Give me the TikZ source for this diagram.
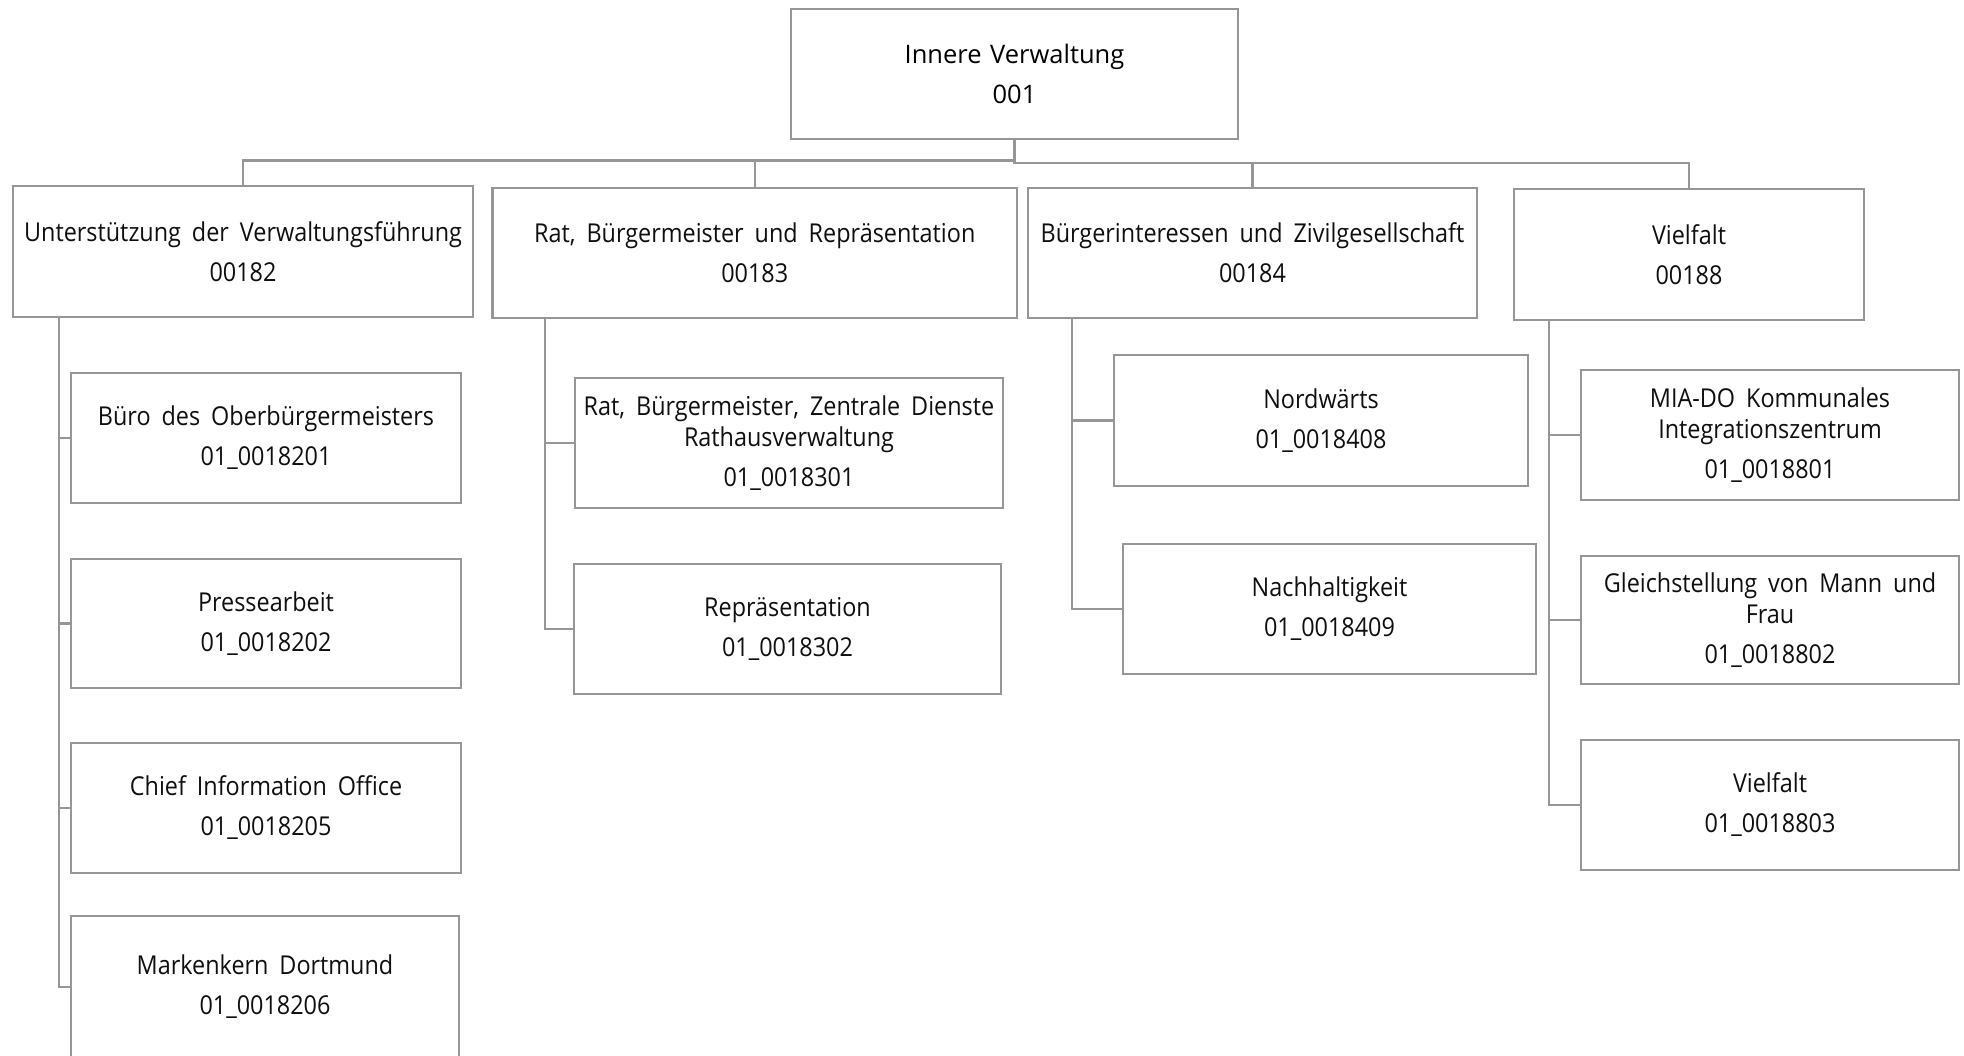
\documentclass[tikz,border=0pt]{standalone}
\usepackage{fontspec}
\newfontfamily\orgfont{Open Sans}[FakeStretch=0.9,WordSpace=1.8]
\newfontfamily\topfont{Open Sans}[WordSpace=1.3]
\usetikzlibrary{calc}
\definecolor{linegray}{RGB}{150,150,150}
\definecolor{textblack}{RGB}{15,15,15}
\tikzset{
  orgbox/.style={draw=linegray, line width=2.5pt, rectangle, inner sep=0pt,
    align=center, text=textblack, font={\orgfont\fontsize{26}{31}\selectfont}},
  topbox/.style={orgbox, text=black, font={\topfont\fontsize{25.5}{31}\selectfont}},
  conn/.style={draw=linegray, line width=2.5pt},
}
\newcommand{\bx}[7][orgbox]{% style, name, left, top, right, bottom, text
  \node[#1, minimum width={(#5)-(#3)}, minimum height={(#6)-(#4)}]
    (#2) at ({((#3)+(#5))/2},{((#4)+(#6))/2}) {#7};}
\begin{document}
\begin{tikzpicture}[x=1pt,y=-1pt]
\useasboundingbox (0,0) rectangle (1964,1055);
\clip (0,0) rectangle (1964,1055);
\bx[topbox]{T}{791}{9}{1238}{139}{Innere Verwaltung\\[9pt]001}
\bx{c182}{13}{186}{473}{317}{Unterstützung der Verwaltungsführung\\[9pt]00182}
\bx{c183}{492.5}{188}{1017}{318}{Rat, Bürgermeister und Repräsentation\\[9pt]00183}
\bx{c184}{1028}{188}{1477}{318}{Bürgerinteressen und Zivilgesellschaft\\[9pt]00184}
\bx{c188}{1514}{189}{1864}{320}{Vielfalt\\[9pt]00188}
%
\bx{b201}{71}{373}{461}{503}{Büro des Oberbürgermeisters\\[9pt]01\_0018201}
\bx{b202}{71}{559}{461}{688}{Pressearbeit\\[9pt]01\_0018202}
\bx{b205}{71}{743}{461}{873}{Chief Information Office\\[9pt]01\_0018205}
\bx{b206}{71}{916}{459}{1058}{Markenkern Dortmund\\[9pt]01\_0018206}
%
\bx{b301}{575}{378}{1003}{508}{Rat, Bürgermeister, Zentrale Dienste\\Rathausverwaltung\\[9pt]01\_0018301}
\bx{b302}{574}{564}{1001}{694}{Repräsentation\\[9pt]01\_0018302}
%
\bx{b408}{1114}{355}{1528}{486}{Nordwärts\\[9pt]01\_0018408}
\bx{b409}{1123}{544}{1536}{674}{Nachhaltigkeit\\[9pt]01\_0018409}
%
\bx{b801}{1581}{370}{1959}{500}{MIA-DO Kommunales\\Integrationszentrum\\[9pt]01\_0018801}
\bx{b802}{1581}{556}{1959}{684}{Gleichstellung von Mann und\\Frau\\[9pt]01\_0018802}
\bx{b803}{1581}{740}{1959}{870}{Vielfalt\\[9pt]01\_0018803}
% top level connectors
\draw[conn] (T.south) -- ++(0,20) -| (c182.north);
\draw[conn] (T.south) -- ++(0,20) -| (c183.north);
\draw[conn] (T.south) -- ++(0,22.5) -| (c184.north);
\draw[conn] (T.south) -- ++(0,22.5) -| (c188.north);
% column 1
\foreach \c in {b201,b202,b205,b206}
  \draw[conn] ($(c182.south west)+(47,0)$) |- (\c.west);
% column 2
\foreach \c in {b301,b302}
  \draw[conn] ($(c183.south west)+(53.5,0)$) |- (\c.west);
% column 3
\foreach \c in {b408,b409}
  \draw[conn] ($(c184.south west)+(45,0)$) |- (\c.west);
% column 4
\foreach \c in {b801,b802,b803}
  \draw[conn] ($(c188.south west)+(36,0)$) |- (\c.west);
\end{tikzpicture}
\end{document}
